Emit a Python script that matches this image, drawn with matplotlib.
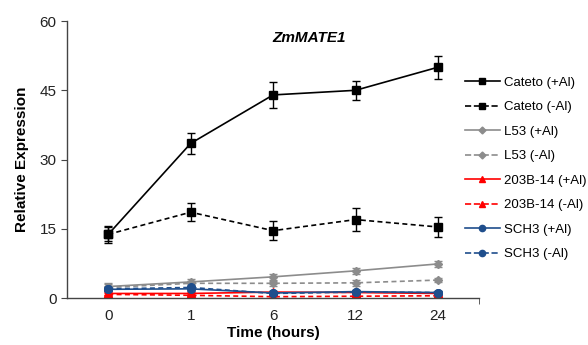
import matplotlib
import matplotlib.pyplot as plt
from matplotlib.lines import Line2D

matplotlib.use("Agg")
plt.rcParams["font.family"] = ["Liberation Sans", "DejaVu Sans"]

time_labels = ["0", "1", "6", "12", "24"]

cateto_al = [13.8, 33.5, 44.0, 45.0, 50.0]
cateto_al_err = [1.8, 2.3, 2.8, 2.0, 2.5]
cateto_noal = [13.8, 18.6, 14.6, 17.0, 15.4]
cateto_noal_err = [1.5, 2.0, 2.0, 2.5, 2.2]

l53_al = [2.5, 3.5, 4.6, 5.9, 7.4]
l53_al_err = [0.8, 0.6, 0.7, 0.6, 0.6]
l53_noal = [2.3, 3.2, 3.2, 3.3, 3.9]
l53_noal_err = [0.7, 0.6, 0.6, 0.6, 0.5]

b203_al = [1.0, 1.0, 1.3, 1.2, 1.0]
b203_al_err = [0.3, 0.3, 0.3, 0.3, 0.3]
b203_noal = [0.8, 0.6, 0.3, 0.4, 0.5]
b203_noal_err = [0.2, 0.2, 0.2, 0.2, 0.2]

sch3_al = [1.9, 2.0, 1.1, 1.4, 1.2]
sch3_al_err = [0.4, 0.4, 0.4, 0.4, 0.4]
sch3_noal = [2.0, 2.3, 1.0, 1.3, 1.2]
sch3_noal_err = [0.4, 0.4, 0.4, 0.4, 0.4]

series = [
    ("Cateto (+Al)", cateto_al, cateto_al_err, "black", "-", "s", 5.5),
    ("Cateto (-Al)", cateto_noal, cateto_noal_err, "black", "--", "s", 5.5),
    ("L53 (+Al)", l53_al, l53_al_err, "#8C8C8C", "-", "D", 4.5),
    ("L53 (-Al)", l53_noal, l53_noal_err, "#8C8C8C", "--", "D", 4.5),
    ("203B-14 (+Al)", b203_al, b203_al_err, "#FF0000", "-", "^", 6),
    ("203B-14 (-Al)", b203_noal, b203_noal_err, "#FF0000", "--", "^", 6),
    ("SCH3 (+Al)", sch3_al, sch3_al_err, "#1F4E8C", "-", "o", 5.5),
    ("SCH3 (-Al)", sch3_noal, sch3_noal_err, "#1F4E8C", "--", "o", 5.5),
]

fig = plt.figure(figsize=(5.88, 3.45), dpi=100)
ax = fig.add_axes([0.114, 0.136, 0.701, 0.803])

x = list(range(len(time_labels)))
handles = []
for label, values, errors, color, style, marker, size in series:
    ax.errorbar(x, values, yerr=errors, color=color, linestyle=style, linewidth=1.2,
                marker=marker, markersize=size, capsize=3, elinewidth=1.0,
                dashes=(3, 2) if style == "--" else (None, None))
    handles.append(Line2D([], [], color=color, linestyle=style, linewidth=1.2,
                          marker=marker, markersize=size - 1, label=label))

ax.set_xlim(-0.5, 4.5)
ax.set_ylim(0, 60)
ax.set_yticks([0, 15, 30, 45, 60])
ax.set_xticks(x)
ax.set_xticklabels(time_labels)
ax.set_xticks([4.5], minor=True)
ax.tick_params(axis="x", which="major", length=0, labelsize=11, pad=8, colors="#222222")
ax.tick_params(axis="x", which="minor", length=4, direction="out", color="#444444")
ax.tick_params(axis="y", length=4, direction="out", labelsize=11, colors="#222222", color="#444444")

for side in ["top", "right"]:
    ax.spines[side].set_visible(False)
for side in ["left", "bottom"]:
    ax.spines[side].set_color("#444444")
    ax.spines[side].set_linewidth(1.0)

ax.set_xlabel("Time (hours)", fontsize=11, fontweight="bold", labelpad=2)
ax.set_ylabel("Relative Expression", fontsize=11, fontweight="bold", labelpad=8)

fig.text(309 / 588, 1 - 38 / 345, "ZmMATE1", fontsize=11, fontweight="bold",
         fontstyle="italic", ha="center", va="center")

leg = fig.legend(handles=handles, loc="upper left", bbox_to_anchor=(458 / 588, 1 - 70 / 345),
                 frameon=False, fontsize=9.5, handlelength=2.7, handletextpad=0.3,
                 labelspacing=0.93, borderpad=0)

fig.savefig("out.png", dpi=100)
